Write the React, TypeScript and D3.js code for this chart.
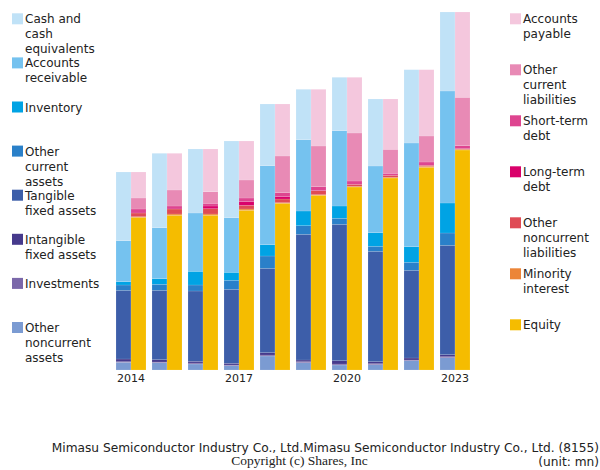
import React from "react";
import * as d3 from "d3";

const years = ["2014","2015","2016","2017","2018","2019","2020","2021","2022","2023"];
const yearTicks = ["2014","2017","2020","2023"];

// Assets (mn)
const cash = [13740,14880,12800,15340,12340,10080,10680,13400,14660,15800];
const receivables = [8200,10200,11660,10920,15800,14260,15060,13340,20740,22400];
const inventory = [660,1120,2740,1600,2260,2940,2460,2720,3120,6000];
const otherCurrent = [1060,1200,1200,1800,2460,1720,1200,1000,1600,2460];
const tangible = [13740,13880,14060,14800,16880,25140,27280,22080,17540,21880];
const intangible = [540,460,340,340,460,340,660,400,400,400];
const investments = [120,140,200,140,200,200,200,200,140,200];
const otherNoncurrent = [1540,1460,1200,860,2800,1460,1000,1060,1860,2460];

// Liabilities & equity (mn)
const payable = [5200,7340,8540,7800,10400,11340,11140,10060,13260,17060];
const otherCurrentLiab = [2200,3200,2320,3600,7340,8140,9600,4800,5200,9680];
const shortDebt = [800,600,540,740,800,800,660,400,660,600];
const longDebt = [0,0,540,720,460,0,0,0,0,0];
const otherNoncurrentLiab = [740,1000,1060,740,740,800,400,400,200,120];
const minority = [120,260,260,260,120,120,140,140,200,140];
const equity = [30540,30940,30940,31940,33340,34940,36600,38400,40540,44000];

const assetSeries = [
  { name: "Other noncurrent assets", values: otherNoncurrent, color: "#7b9bd2" },
  { name: "Investments", values: investments, color: "#7b68aa" },
  { name: "Intangible fixed assets", values: intangible, color: "#463a8c" },
  { name: "Tangible fixed assets", values: tangible, color: "#3d5ea9" },
  { name: "Other current assets", values: otherCurrent, color: "#2a80c9" },
  { name: "Inventory", values: inventory, color: "#00a3e4" },
  { name: "Accounts receivable", values: receivables, color: "#75c2ef" },
  { name: "Cash and cash equivalents", values: cash, color: "#c0e2f7" },
];
const liabSeries = [
  { name: "Equity", values: equity, color: "#f5bc00" },
  { name: "Minority interest", values: minority, color: "#ec8538" },
  { name: "Other noncurrent liabilities", values: otherNoncurrentLiab, color: "#df4b55" },
  { name: "Long-term debt", values: longDebt, color: "#d9016b" },
  { name: "Short-term debt", values: shortDebt, color: "#de4590" },
  { name: "Other current liabilities", values: otherCurrentLiab, color: "#e88ab5" },
  { name: "Accounts payable", values: payable, color: "#f4c7dd" },
];

const leftLegend = [
  { lines: ["Cash and", "cash", "equivalents"], color: "#c0e2f7" },
  { lines: ["Accounts", "receivable"], color: "#75c2ef" },
  { lines: ["Inventory"], color: "#00a3e4" },
  { lines: ["Other", "current", "assets"], color: "#2a80c9" },
  { lines: ["Tangible", "fixed assets"], color: "#3d5ea9" },
  { lines: ["Intangible", "fixed assets"], color: "#463a8c" },
  { lines: ["Investments"], color: "#7b68aa" },
  { lines: ["Other", "noncurrent", "assets"], color: "#7b9bd2" },
];
const rightLegend = [
  { lines: ["Accounts", "payable"], color: "#f4c7dd" },
  { lines: ["Other", "current", "liabilities"], color: "#e88ab5" },
  { lines: ["Short-term", "debt"], color: "#de4590" },
  { lines: ["Long-term", "debt"], color: "#d9016b" },
  { lines: ["Other", "noncurrent", "liabilities"], color: "#df4b55" },
  { lines: ["Minority", "interest"], color: "#ec8538" },
  { lines: ["Equity"], color: "#f5bc00" },
];

const W = 600, H = 470;
const FONT = "DejaVu Sans, sans-serif";

function stackRects(series: { name: string; values: number[]; color: string }[], xOffset: number, x: d3.ScaleBand<string>, y: d3.ScaleLinear<number, number>, bw: number) {
  const out: React.ReactNode[] = [];
  years.forEach((yr, i) => {
    let acc = 0;
    series.forEach((s, j) => {
      const v = s.values[i];
      if (v <= 0) { return; }
      const y0 = y(acc), y1 = y(acc + v);
      acc += v;
      out.push(
        <rect key={`${xOffset}-${i}-${j}`} x={(x(yr) as number) + xOffset} y={y1} width={bw} height={y0 - y1}
          fill={s.color} stroke="#ffffff" strokeOpacity={0.25} strokeWidth={0.5} />
      );
    });
  });
  return out;
}

export default function App() {
  // band step 36, band width 30
  const xb = d3.scaleBand<string>().domain(years).range([113, 473]).paddingInner(6 / 36).paddingOuter(3 / 36);
  const y = d3.scaleLinear().domain([0, 71600]).range([370, 12]);
  const bw = xb.bandwidth() / 2;

  return (
    <svg width={W} height={H} style={{ position: "absolute", left: 0, top: 0, background: "#fff" }}>
      {stackRects(assetSeries, 0, xb, y, bw)}
      {stackRects(liabSeries, bw, xb, y, bw)}
      {yearTicks.map((t) => (
        <text key={t} x={(xb(t) as number) + bw} y={382} textAnchor="middle" fontFamily={FONT} fontSize={11} fill="#222">{t}</text>
      ))}
      {leftLegend.map((l, i) => {
        const top = 13.3 + i * 44.1;
        return (
          <g key={i}>
            <rect x={12} y={top} width={11} height={11} fill={l.color} />
            {l.lines.map((ln, k) => (
              <text key={k} x={25} y={top + 10 + k * 15} fontFamily={FONT} fontSize={12} fill="#222">{ln}</text>
            ))}
          </g>
        );
      })}
      {rightLegend.map((l, i) => {
        const top = 13.3 + i * 51;
        return (
          <g key={i}>
            <rect x={510} y={top} width={11} height={11} fill={l.color} />
            {l.lines.map((ln, k) => (
              <text key={k} x={523} y={top + 10 + k * 15} fontFamily={FONT} fontSize={12} fill="#222">{ln}</text>
            ))}
          </g>
        );
      })}
      <text x={599} y={451.5} textAnchor="end" fontFamily={FONT} fontSize={12.2} fill="#222">Mimasu Semiconductor Industry Co., Ltd.Mimasu Semiconductor Industry Co., Ltd. (8155)</text>
      <text x={599} y={465.5} textAnchor="end" fontFamily={FONT} fontSize={12.2} fill="#222">(unit: mn)</text>
      <text x={299.5} y={465} textAnchor="middle" fontFamily="Liberation Serif, serif" fontSize={13.5} fill="#222">Copyright (c) Shares, Inc</text>
    </svg>
  );
}
